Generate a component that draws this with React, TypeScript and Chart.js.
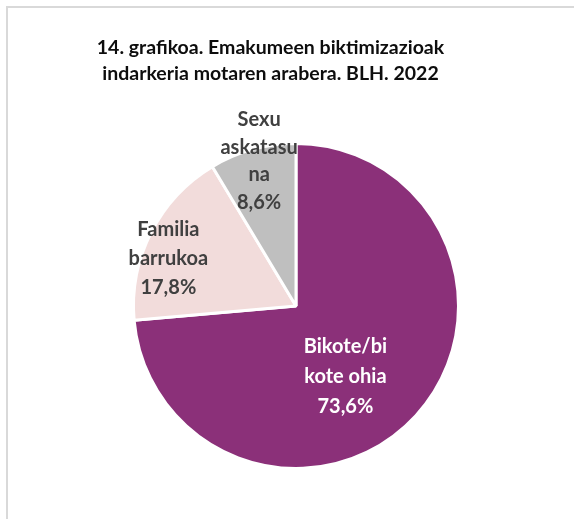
import React, { useEffect, useRef } from "react";
import { Chart, registerables } from "chart.js";

Chart.register(...registerables);

const categories: string[][] = [["Bikote/bi", "kote ohia"], ["Familia", "barrukoa"], ["Sexu", "askatasu", "na"]];
const values: number[] = [73.6, 17.8, 8.6];
const colors: string[] = ["#8B3079", "#F2DCDB", "#BFBFBF"];
const labelColors: string[] = ["#FFFFFF", "#404040", "#404040"];
const labelRadius: number[] = [0.53, 0.837, 0.92];
const labelAngleShift: number[] = [12.5, -6.8, 1.2];
const labelLineHeight: number[] = [30, 29, 27.5];
const titleLines: string[] = ["14. grafikoa. Emakumeen biktimizazioak", "indarkeria motaren arabera. BLH. 2022"];

const FONT = "Lato, 'Open Sans', sans-serif";

const labelPlugin = {
  id: "sliceLabels",
  afterDatasetsDraw(chart: any) {
    const ctx = chart.ctx;
    const meta = chart.getDatasetMeta(0);
    meta.data.forEach((arc: any, i: number) => {
      const mid = (arc.startAngle + arc.endAngle) / 2 + (labelAngleShift[i] * Math.PI) / 180;
      const r = arc.outerRadius * labelRadius[i];
      const cx = arc.x + Math.cos(mid) * r;
      const cy = arc.y + Math.sin(mid) * r;
      const lines = [...categories[i], values[i].toFixed(1).replace(".", ",") + "%"];
      const lh = labelLineHeight[i];
      ctx.save();
      ctx.font = `bold 20px ${FONT}`;
      ctx.fillStyle = labelColors[i];
      ctx.textAlign = "center";
      ctx.textBaseline = "middle";
      lines.forEach((ln: string, k: number) => {
        ctx.fillText(ln, cx, cy + (k - (lines.length - 1) / 2) * lh);
      });
      ctx.restore();
    });
  },
};

export default function App() {
  const ref = useRef<HTMLCanvasElement>(null);
  useEffect(() => {
    if (!ref.current) return;
    const chart = new Chart(ref.current, {
      type: "pie",
      data: {
        labels: categories.map((c) => c.join("")),
        datasets: [
          {
            data: values,
            backgroundColor: colors,
            borderColor: "#FFFFFF",
            borderWidth: 3,
            hoverOffset: 0,
          },
        ],
      },
      options: {
        responsive: false,
        animation: false,
        layout: { padding: { left: 132, right: 114, top: 142, bottom: 49 } },
        plugins: {
          legend: { display: false },
          tooltip: { enabled: false },
          title: { display: false },
        },
      },
      plugins: [labelPlugin],
    });
    return () => chart.destroy();
  }, []);

  return (
    <div style={{ position: "fixed", left: 0, top: 0, width: 574, height: 519, background: "#fff", overflow: "hidden" }}>
      <div style={{ position: "absolute", left: 6, top: 6, width: 700, height: 700, border: "2px solid #D9D9D9" }} />
      <canvas ref={ref} width={574} height={519} style={{ position: "absolute", left: 0, top: 0 }} />
      <div
        style={{
          position: "absolute",
          left: 0,
          top: 34,
          width: 541,
          textAlign: "center",
          fontFamily: FONT,
          fontWeight: "bold",
          fontSize: 19.5,
          lineHeight: "26px",
          color: "#0D0D0D",
        }}
      >
        {titleLines.map((t, i) => (
          <div key={i}>{t}</div>
        ))}
      </div>
    </div>
  );
}
